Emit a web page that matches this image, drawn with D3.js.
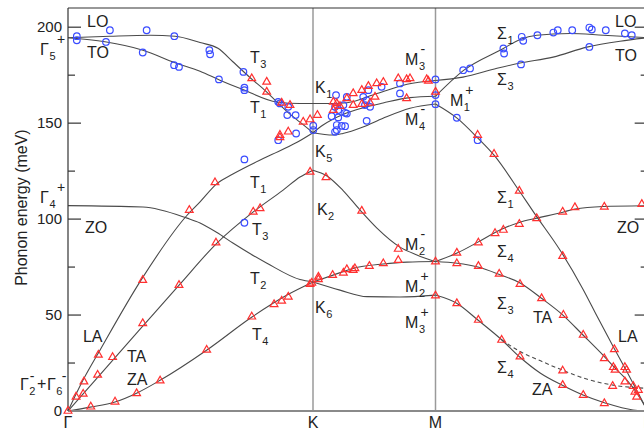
<!DOCTYPE html>
<html>
<head>
<meta charset="utf-8">
<script src="https://cdn.jsdelivr.net/npm/d3@7"></script>
<style>
  body { margin: 0; background: #fff; }
  svg { display: block; font-family: "Liberation Sans", Arial, sans-serif; }
</style>
</head>
<body>
<div id="chart"></div>
<script>
// high-symmetry points along the path, k in units of |ΓK|
const kPoints = [{name: "Γ", k: 0}, {name: "K", k: 1}, {name: "M", k: 1.5}, {name: "Γ", k: 2.366}]
const yTicksMajor = [0, 50, 100, 150, 200]
const yTicksMinor = [25, 75, 125, 175]

// calculated dispersion, [k, meV], one array per branch and segment
// Γ -> K
const gkLO = [[0,194.5],[0.171,195.3],[0.335,195.8],[0.437,195.3],[0.539,192],[0.612,189],[0.673,182],[0.755,172.4],[0.796,168],[0.853,161],[0.906,154.7],[0.947,150.5],[1,145]]
const gkTO = [[0,194.5],[0.151,192.4],[0.306,188],[0.437,181.5],[0.539,177],[0.620,172.4],[0.714,167.5],[0.853,161],[0.947,160.2],[1,160.2]]
const gkLA = [[0,0],[0.061,16],[0.131,31.8],[0.298,68.2],[0.486,102],[0.539,109],[0.608,118.5],[0.673,123.5],[0.812,132.5],[0.935,140],[1,145]]
const gkTA = [[0,0],[0.131,19],[0.306,44.3],[0.457,66.1],[0.608,87.5],[0.755,103.6],[0.878,115.1],[0.947,121.9],[1,125.5]]
const gkZO = [[0,107],[0.306,106.3],[0.486,100.5],[0.539,98],[0.608,93],[0.673,87.5],[0.812,77],[0.947,68.5],[1,67.2]]
const gkZA = [[0,0],[0.090,2],[0.192,4.7],[0.282,9.4],[0.376,16],[0.567,31.8],[0.751,49],[0.894,60.4],[1,67.2]]
// K -> M
const kmK1 = [[1,160.2],[1.082,160.2],[1.139,160.6],[1.261,165.4],[1.384,170.3],[1.5,172.2]]
const kmK5a = [[1,145],[1.041,149],[1.122,154.5],[1.204,158],[1.286,160.5],[1.396,163.3],[1.5,164]]
const kmK5b = [[1,145],[1.082,143.8],[1.122,144.6],[1.204,148],[1.286,152.6],[1.396,157.8],[1.5,160]]
const kmK2 = [[1,125.5],[1.057,122.5],[1.122,115],[1.192,104.7],[1.261,95.3],[1.355,85.4],[1.424,81.3],[1.5,77.8]]
const kmK6a = [[1,67.2],[1.082,70.8],[1.163,74.3],[1.286,76.6],[1.384,77.6],[1.5,77.9]]
const kmK6b = [[1,67.2],[1.110,63],[1.220,59.6],[1.355,59.4],[1.5,60.4]]
// M -> Γ
const mgS3 = [[1.5,172.2],[1.612,174],[1.751,178.6],[1.845,181.3],[1.98,184.4],[2.118,189.6],[2.253,192.7],[2.366,194.5]]
const mgS1 = [[1.5,164],[1.616,177.6],[1.777,188.9],[1.845,193.6],[1.913,195.8],[2.049,196.7],[2.185,195.8],[2.366,194.5]]
const mgLA = [[1.5,160],[1.588,152.6],[1.673,142.2],[1.739,133.3],[1.845,114.1],[1.906,102.6],[2.008,83.9],[2.102,63.5],[2.159,49.5],[2.224,33.9],[2.282,20.3],[2.366,0]]
const mgZO = [[1.5,77.9],[1.588,82.3],[1.673,88],[1.763,94.3],[1.845,98.4],[1.914,100.5],[2.020,103.6],[2.069,105.3],[2.184,106.6],[2.366,107]]
const mgTA = [[1.5,77.9],[1.588,77],[1.673,75],[1.763,71],[1.845,66.7],[1.931,58.9],[2.020,50],[2.102,39.6],[2.192,28],[2.233,22.4],[2.282,16],[2.322,9.4],[2.366,0]]
const mgZA = [[1.5,60.4],[1.588,56],[1.673,47.4],[1.771,37],[1.845,28],[1.927,19.8],[2.016,13.5],[2.102,8.3],[2.192,4.2],[2.306,0.5],[2.366,0]]
const mgDashed = [[1.771,37],[1.845,31],[1.931,26],[2.016,21.4],[2.12,16.5],[2.224,13.5],[2.366,11.8]]

const branches = [gkLO, gkTO, gkLA, gkTA, gkZO, gkZA, kmK1, kmK5a, kmK5b, kmK2, kmK6a, kmK6b, mgS3, mgS1, mgLA, mgZO, mgTA, mgZA]

// measured points, [k, meV]
const ixsBlue = [
  [0.036,195.3],[0.036,193.2],[0.171,198.4],[0.155,192.3],[0.321,198.4],[0.305,186.8],[0.434,195.3],[0.433,180.2],
  [0.453,179.3],[0.577,188],[0.580,185.9],[0.616,172.8],[0.716,176.7],[0.720,168.5],[0.720,167.2],[0.858,161.1],
  [0.865,160.3],[0.899,158.5],[0.895,154.2],[0.929,154.2],[0.931,144.6],[0.858,141.1],[1.001,148.7],[1.001,146.4],
  [0.720,131.1],[0.720,98.1],
  [1.094,164.6],[1.138,163.7],[1.090,158.5],[1.124,159.4],[1.103,156.8],[1.131,155.4],[1.076,153.6],[1.103,153],
  [1.138,155],[1.205,163.7],[1.212,159.4],[1.233,158.5],[1.226,167.2],[1.219,161.9],[1.355,170.7],[1.355,165.5],
  [1.219,151.2],[1.097,149],[1.117,148.6],[1.097,146.4],[1.280,168.9],[1.090,145.5],[1.131,148.4],
  [1.5,172.8],[1.5,164.6],[1.5,159.9],
  [1.613,177.6],[1.641,178.5],[1.777,188.9],[1.780,186.3],[1.852,195],[1.858,192.9],[1.916,195.8],[1.981,197.2],
  [1.999,198.4],[2.058,198.4],[2.128,199.8],[2.138,198.8],[2.195,198.4],[2.273,196.7],[2.301,195.8],[2.128,189.7],
  [1.849,180.6],[1.587,152.8],[1.672,141.1]
]
const ixsRed = [
  [0,0],[0.033,7.4],[0.062,8.9],[0.065,15.3],[0.093,2.2],[0.121,18.8],[0.124,29.2],[0.182,28],[0.192,4.8],
  [0.280,9.2],[0.305,45.7],[0.305,68.2],[0.376,15.8],[0.453,65.6],[0.495,104.7],[0.566,31.8],[0.600,119.1],
  [0.604,87.7],[0.750,49.1],[0.756,103.8],[0.784,105.6],[0.841,55.6],[0.872,57.4],[0.899,59.5],[0.988,124.6],
  [0.995,66.8],[0.988,66.1],[1.022,69.9],[1.022,68.6],
  [0.750,173.3],[0.811,171.5],[0.811,166.3],[0.872,160.6],[0.906,159.4],[0.865,143.8],[0.865,142.6],[0.899,145.5],
  [0.960,150.7],[0.988,151.9],[1.018,154.2],
  [1.083,161.1],[1.097,160.3],[1.110,158.9],[1.083,156.8],[1.138,162.9],[1.164,165.5],[1.199,167.2],[1.226,169.3],
  [1.260,170.7],[1.287,171.4],[1.348,173.3],[1.382,172.8],[1.396,173.3],[1.464,172.8],[1.164,159.4],[1.199,159.9],
  [1.233,160.6],[1.253,163.7],[1.382,162.9],[1.5,166.3],[1.471,172],
  [1.053,121.7],[1.199,104.3],[1.348,84.4],[1.348,78.6],[1.287,76.9],[1.230,75.5],[1.171,74.3],[1.164,73.4],
  [1.138,73.8],[1.124,72],[1.080,70.8],[1.5,77.8],[1.5,60.1],
  [1.739,133.9],[1.842,114.7],[2.019,80.7],[1.913,100.4],[1.842,97.4],[1.777,94.3],[1.743,92.6],[1.675,87.7],
  [1.587,82.4],[2.019,103.8],[2.069,106.1],[2.189,106.4],[2.342,107.8],[1.587,76.9],[1.675,75.5],[1.760,71.4],
  [1.845,66.1],[1.933,58.7],[2.022,50],[2.103,39.6],[1.587,56.1],[1.675,47.4],[1.770,37],[1.845,28.3],
  [2.019,21],[2.019,13.5],[2.103,8.3],[2.189,4],[2.223,13],[2.230,32.1],[2.189,27.4],[2.226,22.8],[2.233,21.4],
  [2.273,22.8],[2.280,21.4],[2.273,15.3],[2.307,13],[2.314,10],[2.321,7.4],[2.328,10.9],[1.672,143.8]
]

// symmetry / branch labels, placed in data units (left edge, baseline)
const labels = [
  {k: 0.078, e: 200, t: "LO"}, {k: 0.078, e: 183.9, t: "TO"},
  {k: -0.114, e: 185.4, t: "Γ", sub: "5", sup: "+", supDx: 8},
  {k: -0.114, e: 108.3, t: "Γ", sub: "4", sup: "+", supDx: 8},
  {k: 0.069, e: 92.7, t: "ZO"}, {k: 0.061, e: 35.9, t: "LA"},
  {k: 0.241, e: 25.5, t: "TA"}, {k: 0.241, e: 13.5, t: "ZA"},
  {k: -0.196, e: 10.9, t: "Γ", sub: "2", sup: "-", supDx: 1, supDy: -9},
  {k: -0.127, e: 11.5, t: "+"},
  {k: -0.086, e: 10.9, t: "Γ", sub: "6", sup: "-", supDx: 6, supDy: -9},
  {k: 0.743, e: 181.3, t: "T", sub: "3"}, {k: 0.743, e: 155.2, t: "T", sub: "1"},
  {k: 1.008, e: 165.6, t: "K", sub: "1"}, {k: 1.008, e: 132.3, t: "K", sub: "5"},
  {k: 1.376, e: 180.2, t: "M", sub: "3", sup: "-"}, {k: 1.376, e: 149, t: "M", sub: "4", sup: "-"},
  {k: 1.559, e: 158.9, t: "M", sub: "1", sup: "+"},
  {k: 1.751, e: 193.75, t: "Σ", sub: "1"}, {k: 1.751, e: 169.8, t: "Σ", sub: "3"},
  {k: 2.233, e: 200, t: "LO"}, {k: 2.233, e: 182.3, t: "TO"},
  {k: 0.743, e: 116.1, t: "T", sub: "1"}, {k: 1.016, e: 102.1, t: "K", sub: "2"},
  {k: 0.751, e: 91.7, t: "T", sub: "3"}, {k: 1.376, e: 83.9, t: "M", sub: "2", sup: "-"},
  {k: 0.743, e: 66.1, t: "T", sub: "2"}, {k: 1.376, e: 62, t: "M", sub: "2", sup: "+"},
  {k: 1.008, e: 51, t: "K", sub: "6"}, {k: 1.376, e: 43.2, t: "M", sub: "3", sup: "+"},
  {k: 0.751, e: 37, t: "T", sub: "4"},
  {k: 1.751, e: 108.3, t: "Σ", sub: "1"}, {k: 2.241, e: 92.7, t: "ZO"},
  {k: 1.751, e: 80.2, t: "Σ", sub: "4"}, {k: 1.751, e: 53.1, t: "Σ", sub: "3"},
  {k: 1.898, e: 45.8, t: "TA"}, {k: 2.245, e: 35.9, t: "LA"},
  {k: 1.751, e: 19.8, t: "Σ", sub: "4"}, {k: 1.894, e: 8.3, t: "ZA"}
]

const width = 644
const height = 431

const x = d3.scaleLinear().domain([0, 2.366]).range([68, 68 + 245 * 2.366])
const y = d3.scaleLinear().domain([0, 210]).range([411, 8])

const svg = d3.select("#chart").append("svg")
  .attr("width", width)
  .attr("height", height)

// vertical lines at K and M
svg.append("g").selectAll("line")
  .data(kPoints.slice(1, 3))
  .join("line")
    .attr("x1", d => x(d.k)).attr("x2", d => x(d.k))
    .attr("y1", y(0)).attr("y2", y(210))
    .attr("stroke", "#9a9a9a")
    .attr("stroke-width", 1.5)

const line = d3.line()
  .x(d => x(d[0]))
  .y(d => y(d[1]))
  .curve(d3.curveMonotoneX)

svg.append("g").selectAll("path")
  .data(branches)
  .join("path")
    .attr("d", line)
    .attr("fill", "none")
    .attr("stroke", "#4a4a4a")
    .attr("stroke-width", 1.1)

svg.append("path")
  .datum(mgDashed)
  .attr("d", line)
  .attr("fill", "none")
  .attr("stroke", "#4a4a4a")
  .attr("stroke-width", 1.1)
  .attr("stroke-dasharray", "4,3")

// frame
svg.append("line")
  .attr("x1", x(0)).attr("x2", x(2.366)).attr("y1", y(0)).attr("y2", y(0))
  .attr("stroke", "#8a8a8a").attr("stroke-width", 2)
svg.append("line")
  .attr("x1", x(0)).attr("x2", x(2.366)).attr("y1", y(210)).attr("y2", y(210))
  .attr("stroke", "#333").attr("stroke-width", 1.2)
svg.append("line")
  .attr("x1", x(0)).attr("x2", x(0)).attr("y1", y(0)).attr("y2", y(210))
  .attr("stroke", "#333").attr("stroke-width", 1.2)

// inward ticks on both sides
const ticks = svg.append("g").attr("stroke", "#333").attr("stroke-width", 1.2)
for (const side of [x(0), x(2.366)]) {
  const dir = side === x(0) ? 1 : -1
  ticks.append("g").selectAll("line")
    .data(yTicksMajor.slice(1))
    .join("line")
      .attr("x1", side).attr("x2", side + dir * 13)
      .attr("y1", d => y(d)).attr("y2", d => y(d))
  ticks.append("g").selectAll("line")
    .data(yTicksMinor)
    .join("line")
      .attr("x1", side).attr("x2", side + dir * 7)
      .attr("y1", d => y(d)).attr("y2", d => y(d))
}

svg.append("g").selectAll("text")
  .data(yTicksMajor)
  .join("text")
    .attr("x", 62)
    .attr("y", d => y(d))
    .attr("dy", "0.35em")
    .attr("text-anchor", "end")
    .attr("font-size", 15)
    .attr("fill", "#222")
    .text(d => d)

svg.append("g").selectAll("text")
  .data(kPoints)
  .join("text")
    .attr("x", d => x(d.k))
    .attr("y", 428)
    .attr("text-anchor", "middle")
    .attr("font-size", 16)
    .attr("fill", "#222")
    .text(d => d.name)

svg.append("text")
  .attr("transform", `translate(27,${y(106)}) rotate(-90)`)
  .attr("text-anchor", "middle")
  .attr("font-size", 16)
  .attr("fill", "#222")
  .text("Phonon energy (meV)")

// data points
svg.append("g").selectAll("circle")
  .data(ixsBlue)
  .join("circle")
    .attr("cx", d => x(d[0]))
    .attr("cy", d => y(d[1]))
    .attr("r", 3.3)
    .attr("fill", "none")
    .attr("stroke", "#3a4cff")
    .attr("stroke-width", 1.2)

svg.append("g").selectAll("path")
  .data(ixsRed)
  .join("path")
    .attr("transform", d => `translate(${x(d[0])},${y(d[1])})`)
    .attr("d", d3.symbol(d3.symbolTriangle, 26))
    .attr("fill", "none")
    .attr("stroke", "#ff3030")
    .attr("stroke-width", 1.2)

// labels with sub/superscripts
const labelG = svg.append("g").attr("fill", "#222")
for (const d of labels) {
  const lx = x(d.k), ly = y(d.e)
  const main = labelG.append("text")
    .attr("x", lx).attr("y", ly)
    .attr("font-size", 16)
    .text(d.t)
  const w = main.node().getComputedTextLength()
  if (d.sub) {
    labelG.append("text")
      .attr("x", lx + w + 0.5).attr("y", ly + 5)
      .attr("font-size", 11)
      .text(d.sub)
  }
  if (d.sup) {
    labelG.append("text")
      .attr("x", lx + w + (d.supDx ?? 2)).attr("y", ly + (d.supDy ?? -11))
      .attr("font-size", 14)
      .text(d.sup)
  }
}
</script>
</body>
</html>
